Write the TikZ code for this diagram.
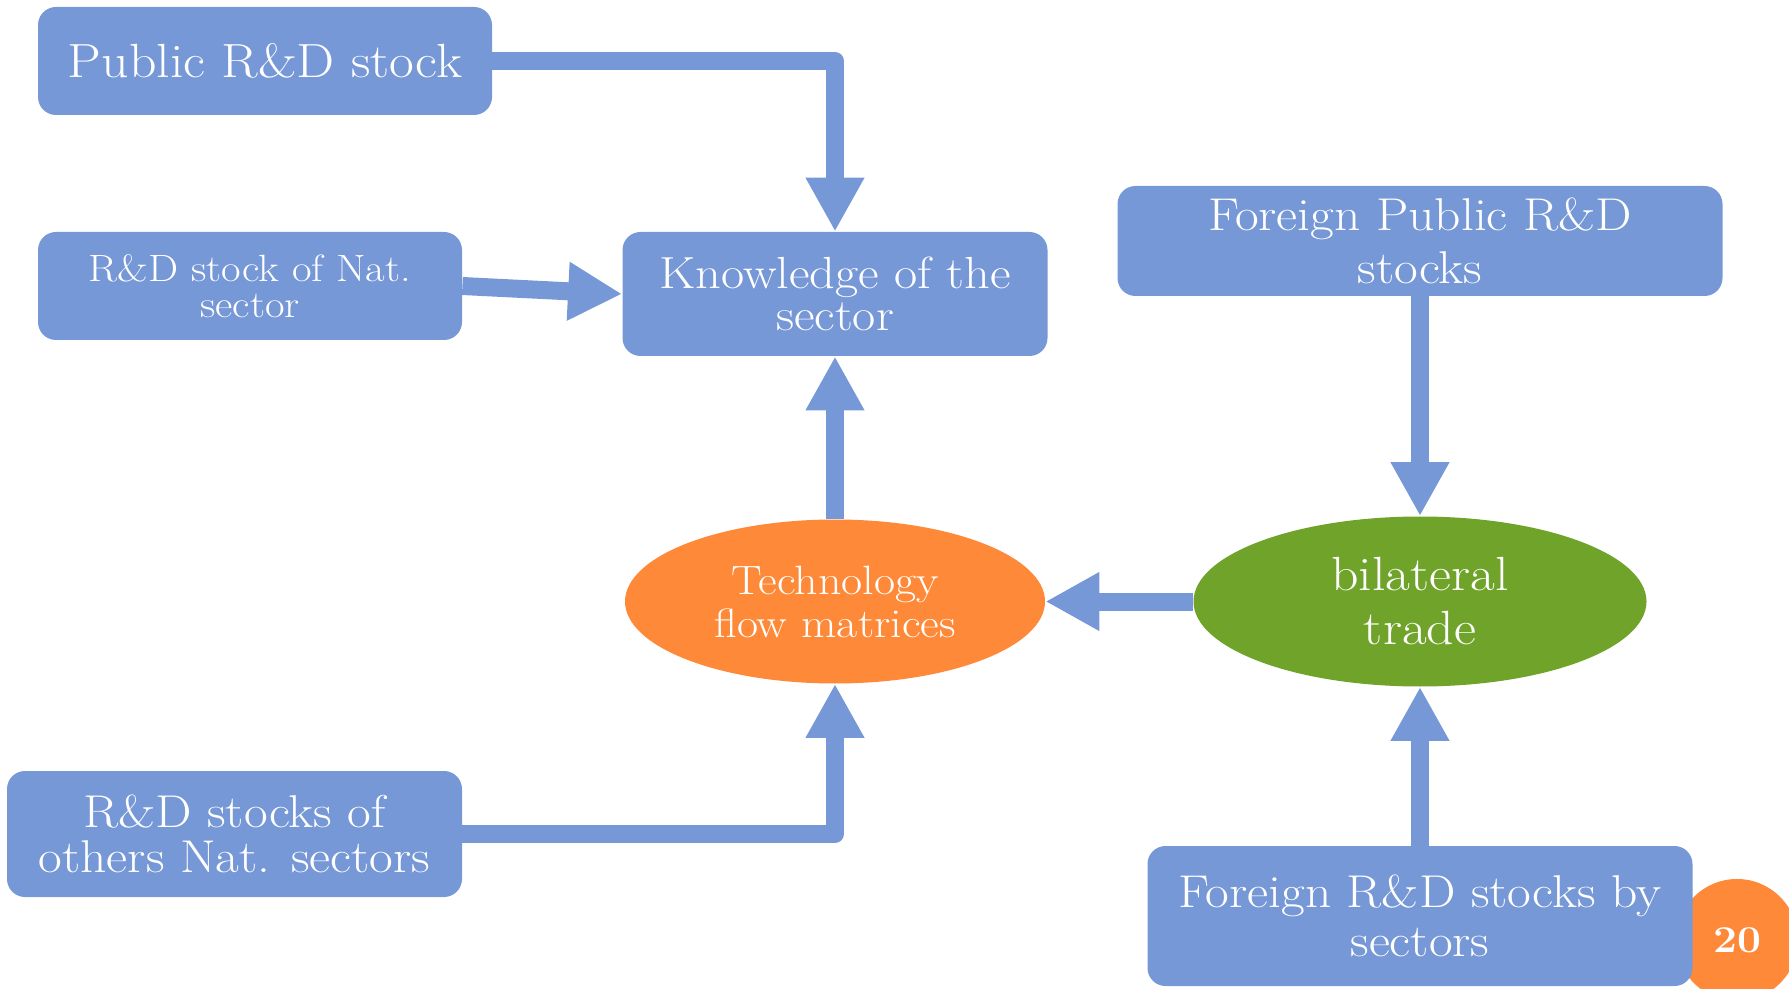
\documentclass[tikz,border=0pt]{standalone}
\usepackage{fontspec}
\setmainfont{Latin Modern Roman}[FakeStretch=1.12]
\usetikzlibrary{arrows.meta,shapes.geometric}
\definecolor{boxblue}{RGB}{119,152,214}
\definecolor{ellorange}{RGB}{254,137,56}
\definecolor{ellgreen}{RGB}{112,163,42}
\tikzset{
  bluebox/.style={fill=boxblue, rounded corners=9pt, text=white, align=center, inner sep=0pt},
  ellnode/.style={ellipse, text=white, align=center, inner sep=0pt},
  conn/.style={draw=boxblue, line width=9pt, line join=round, -{Triangle[length=27pt,width=27.5pt]}},
}
\newcommand{\fsz}[2]{\fontsize{#1}{#2}\selectfont}
\begin{document}
\begin{tikzpicture}[x=0.5pt,y=-0.5pt]
\useasboundingbox (0,0) rectangle (1789,989);
% page number circle
\fill[ellorange] (1737,940) circle[radius=30.5pt];
\node[text=white, font=\fontsize{19pt}{19pt}\selectfont\bfseries] (page) at (1737,940) {20};
% boxes
\node[bluebox, minimum width=227pt, minimum height=54pt, font=\fsz{24pt}{24pt}] (pub) at (265,61) {Public R\&D stock};
\node[bluebox, minimum width=212pt, minimum height=54pt, font=\fsz{19pt}{18pt}] (nat) at (250,286) {R\&D stock of Nat.\\sector};
\node[bluebox, minimum width=212.5pt, minimum height=62pt, font=\fsz{22.5pt}{21pt}] (know) at (835,294) {Knowledge of the\\sector};
\node[bluebox, minimum width=302.5pt, minimum height=55pt, font=\fsz{23pt}{26.5pt}] (fpub) at (1420,241) {Foreign Public R\&D\\stocks};
\node[bluebox, minimum width=227.5pt, minimum height=63pt, font=\fsz{23pt}{22.5pt}] (oth) at (234.5,834) {R\&D stocks of\\others Nat. sectors};
\node[bluebox, minimum width=272.5pt, minimum height=70pt, font=\fsz{23pt}{24.5pt}] (fsec) at (1420,916) {Foreign R\&D stocks by\\sectors};
% ellipses
\node[ellnode, fill=ellorange, minimum width=210pt, minimum height=82pt, font=\fsz{20.5pt}{21.5pt}] (tech) at (835,601.5) {Technology\\flow matrices};
\node[ellnode, fill=ellgreen, minimum width=226.5pt, minimum height=85pt, font=\fsz{24pt}{27pt}] (bil) at (1420,601.5) {bilateral\\trade};
% connectors
\draw[conn] (pub.east) -| (know.north);
\draw[conn] (nat.east) -- (know.west);
\draw[conn] (tech.north) -- (know.south);
\draw[conn] (bil.west) -- (tech.east);
\draw[conn] (fpub.south) -- (bil.north);
\draw[conn] (fsec.north) -- (bil.south);
\draw[conn] (oth.east) -| (tech.south);
\end{tikzpicture}
\end{document}
